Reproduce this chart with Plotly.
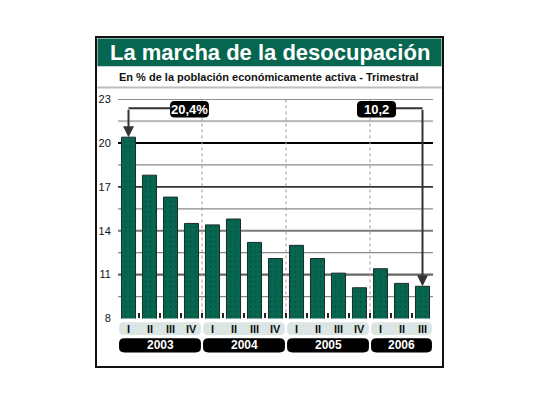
import plotly.graph_objects as go

# ---------------- data ----------------
years = ["2003", "2004", "2005", "2006"]
quarters = ["I", "II", "III", "IV", "I", "II", "III", "IV",
            "I", "II", "III", "IV", "I", "II", "III"]
values = [20.4, 17.8, 16.3, 14.5, 14.4, 14.8, 13.2, 12.1,
          13.0, 12.1, 11.1, 10.1, 11.4, 10.4, 10.2]
y_ticks = [8, 11, 14, 17, 20, 23]
grid_values = [9.5, 11, 12.5, 14, 15.5, 17, 18.5, 20, 21.5, 23]
callout_labels = {0: "20,4%", 14: "10,2"}

title = "La marcha de la desocupación"
subtitle = "En % de la población económicamente activa - Trimestral"

# ---------------- styles ----------------
W, H = 540, 405
GREEN = "#07664f"
SANS = "Liberation Sans, Arial, sans-serif"


def px(x):
    return x / W


def py(y):
    return 1 - y / H


def rrect(x0, x1, y0, y1, rx, ry):
    sy = 1 if y1 > y0 else -1
    ry = ry * sy
    return (f"M {x0+rx},{y0} L {x1-rx},{y0} Q {x1},{y0} {x1},{y0+ry} "
            f"L {x1},{y1-ry} Q {x1},{y1} {x1-rx},{y1} L {x0+rx},{y1} "
            f"Q {x0},{y1} {x0},{y1-ry} L {x0},{y0+ry} Q {x0},{y0} {x0+rx},{y0} Z")


grid_style = {
    23: ("#3a3a3a", 1.2), 21.5: ("#bdbdbd", 2.2), 20: ("#000000", 1.8),
    18.5: ("#8a8a8a", 1.2), 17: ("#333333", 1.8), 15.5: ("#8a8a8a", 1.2),
    14: ("#7a7a7a", 2.2), 12.5: ("#8a8a8a", 1.2), 11: ("#666666", 2.2),
    9.5: ("#8a8a8a", 1.2),
}

n = len(values)
xs = list(range(n))

fig = go.Figure()
fig.add_trace(go.Bar(
    x=xs, y=values, width=0.67,
    marker=dict(color=GREEN, line=dict(color="#1c2b27", width=1),
                pattern=dict(shape=".", fgcolor="#02392c", size=5,
                             solidity=0.12, fillmode="overlay")),
    hoverinfo="skip", showlegend=False,
))

shapes = []
# outer frame and title band
shapes.append(dict(type="rect", xref="paper", yref="paper",
                   x0=px(96), x1=px(443), y0=py(372), y1=py(32),
                   line=dict(color="#111", width=2), fillcolor="white", layer="below"))
shapes.append(dict(type="rect", xref="paper", yref="paper",
                   x0=px(97.5), x1=px(441.5), y0=py(62), y1=py(33.5),
                   line=dict(width=0), fillcolor=GREEN, layer="below"))
shapes.append(dict(type="line", xref="paper", yref="paper",
                   x0=px(97.5), x1=px(441.5), y0=py(84), y1=py(84),
                   line=dict(color="#bdbdbd", width=2), layer="below"))

# gridlines
for g in grid_values:
    c, w = grid_style[g]
    shapes.append(dict(type="line", xref="x domain", yref="y", x0=0, x1=1,
                       y0=g, y1=g, line=dict(color=c, width=w), layer="below"))

# year separators, quarter boxes, year boxes
n_years = len(years)
for k in range(n_years):
    start = 4 * k - 0.5
    end = min(4 * k + 3.5, n - 0.5)
    if k > 0:
        shapes.append(dict(type="line", xref="x", yref="y", x0=start, x1=start,
                           y0=min(y_ticks), y1=max(y_ticks),
                           line=dict(color="#9a9a9a", width=1, dash="dot"),
                           layer="below"))
    shapes.append(dict(type="path", xref="x", yref="paper",
                       path=rrect(start + 0.05, end - 0.05, py(339), py(326),
                                  0.22, 5 / H),
                       fillcolor="#dbe5e4", line=dict(width=0)))
    shapes.append(dict(type="path", xref="x", yref="paper",
                       path=rrect(start + 0.05, end - 0.05, py(357), py(342.5),
                                  0.25, 5 / H),
                       fillcolor="#000000", line=dict(width=0)))

annotations = []
annotations.append(dict(text=f"<b>{title}</b>", xref="paper", yref="paper",
                        x=px(270), y=py(47.5), showarrow=False,
                        font=dict(family=SANS, size=22, color="white"),
                        xanchor="center", yanchor="middle"))
annotations.append(dict(text=f"<b>{subtitle}</b>", xref="paper", yref="paper",
                        x=px(269), y=py(73.5), showarrow=False,
                        font=dict(family=SANS, size=11, color="#111"),
                        xanchor="center", yanchor="middle"))
for i, q in enumerate(quarters):
    annotations.append(dict(text=f"<b>{q}</b>", x=i, xref="x", y=py(332.5),
                            yref="paper", showarrow=False,
                            font=dict(family=SANS, size=11, color="#111"),
                            xanchor="center", yanchor="middle"))
for k, yr in enumerate(years):
    end = min(4 * k + 3.5, n - 0.5)
    annotations.append(dict(text=f"<b>{yr}</b>", x=(4 * k - 0.5 + end) / 2,
                            xref="x", y=py(349.5), yref="paper", showarrow=False,
                            font=dict(family=SANS, size=12, color="white"),
                            xanchor="center", yanchor="middle"))

# callouts
conn_y = 22.37
for idx, lab in callout_labels.items():
    if idx < n / 2:
        bx0, bx1 = idx + 1.98, idx + 3.83
        lx = bx0
    else:
        bx0, bx1 = idx - 3.12, idx - 1.26
        lx = bx1
    shapes.append(dict(type="path", xref="x", yref="y",
                       path=rrect(bx0, bx1, 21.74, 22.87, 0.22, 0.3),
                       fillcolor="#000000", line=dict(width=0)))
    shapes.append(dict(type="line", xref="x", yref="y", x0=idx, x1=lx,
                       y0=conn_y, y1=conn_y, line=dict(color="#333", width=2)))
    annotations.append(dict(text=f"<b>{lab}</b>", x=(bx0 + bx1) / 2, y=22.3,
                            xref="x", yref="y", showarrow=False,
                            font=dict(family=SANS, size=13, color="white"),
                            xanchor="center", yanchor="middle"))
    annotations.append(dict(text="", x=idx, y=values[idx], xref="x", yref="y",
                            ax=idx, ay=conn_y, axref="x", ayref="y",
                            showarrow=True, arrowhead=2, arrowsize=1.1,
                            arrowwidth=2, arrowcolor="#333", standoff=0))

fig.update_layout(
    width=W, height=H, autosize=False,
    margin=dict(l=0, r=0, t=0, b=0),
    paper_bgcolor="white", plot_bgcolor="rgba(0,0,0,0)",
    bargap=0.33,
    shapes=shapes, annotations=annotations,
    xaxis=dict(domain=[px(118), px(433)], range=[-0.5, n - 0.5],
               tickvals=[i - 0.5 for i in range(n + 1)],
               ticks="inside", ticklen=5, tickwidth=2, tickcolor="#222",
               showticklabels=False, showgrid=False, zeroline=False,
               showline=False, fixedrange=True),
    yaxis=dict(domain=[py(322), py(96)], range=[min(y_ticks), max(y_ticks)],
               tickvals=y_ticks, ticktext=[str(t) for t in y_ticks],
               ticks="outside", ticklen=4, tickcolor="rgba(0,0,0,0)",
               tickfont=dict(family=SANS, size=11, color="#111"),
               showgrid=False, zeroline=False, showline=False, fixedrange=True),
)

fig.write_html("out.html")
